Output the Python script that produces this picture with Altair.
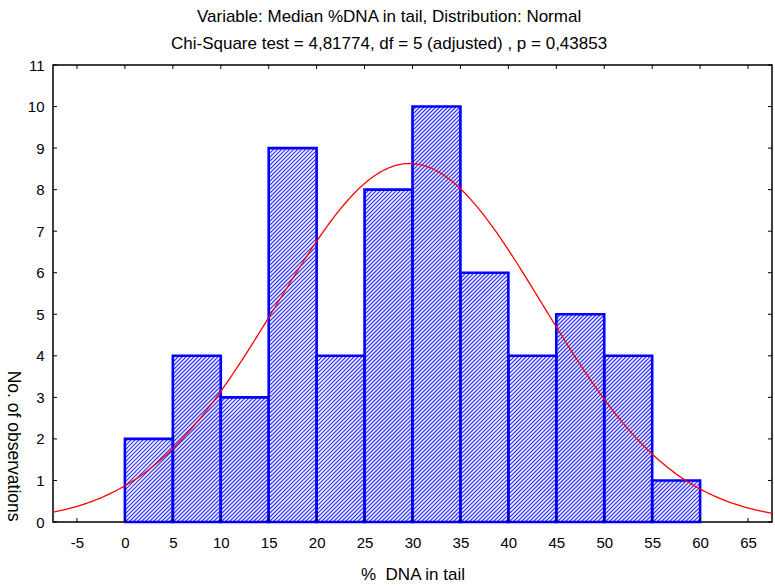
import altair as alt
import numpy as np
import pandas as pd

# Histogram of median %DNA in tail (class width 5)
bin_start = [0, 5, 10, 15, 20, 25, 30, 35, 40, 45, 50, 55]
counts = [2, 4, 3, 9, 4, 8, 10, 6, 4, 5, 4, 1]
bin_width = 5

# Axis tick values
x_ticks = [-5, 0, 5, 10, 15, 20, 25, 30, 35, 40, 45, 50, 55, 60, 65]
y_ticks = [0, 1, 2, 3, 4, 5, 6, 7, 8, 9, 10, 11]

# Fitted normal distribution
fit_mean = 29.7
fit_sd = 13.87

title_lines = [
    "Variable: Median %DNA in tail, Distribution: Normal",
    "Chi-Square test = 4,81774, df = 5 (adjusted) , p = 0,43853",
]
x_title = "%\u00a0 DNA in tail"
y_title = "No. of observations"

# Plot geometry
W, H = 719, 457
X_DOM = [-7.5, 67.5]
Y_DOM = [0, 11]
FONT = "Liberation Sans"

n_total = sum(counts)
bars = pd.DataFrame({
    "start": bin_start,
    "end": [s + bin_width for s in bin_start],
    "count": counts,
})

# Diagonal hatching inside each bar, built in pixel space and mapped back to data units
px_x = W / (X_DOM[1] - X_DOM[0])
px_y = H / (Y_DOM[1] - Y_DOM[0])
period = 4.0
segs = []
for s, e, c in zip(bars["start"], bars["end"], bars["count"]):
    u0 = (s - X_DOM[0]) * px_x
    u1 = (e - X_DOM[0]) * px_x
    h = c * px_y
    k0 = int(np.floor((u0 - h) / period))
    k1 = int(np.ceil(u1 / period))
    for k in range(k0, k1 + 1):
        off = k * period
        a = max(u0, off)
        b = min(u1, off + h)
        if b - a > 0.3:
            segs.append({
                "hx": a / px_x + X_DOM[0],
                "hy": (a - off) / px_y,
                "hx2": b / px_x + X_DOM[0],
                "hy2": (b - off) / px_y,
            })
hatch = pd.DataFrame(segs)

# Expected frequencies of the fitted normal curve
xs = np.arange(X_DOM[0], X_DOM[1] + 0.001, 0.25)
ys = n_total * bin_width / (fit_sd * np.sqrt(2 * np.pi)) * np.exp(-0.5 * ((xs - fit_mean) / fit_sd) ** 2)
curve = pd.DataFrame({"cx": xs, "cy": ys})

xt = pd.DataFrame({"t": x_ticks})
yt = pd.DataFrame({"t": y_ticks})

x_scale = alt.Scale(domain=X_DOM, nice=False, zero=False)
y_scale = alt.Scale(domain=Y_DOM, nice=False, zero=False)

x_axis = alt.Axis(
    values=x_ticks, title=x_title, grid=False, domain=False, ticks=False, tickSize=0,
    labelPadding=13, labelFont=FONT, labelFontSize=15, labelColor="black",
    labelFlush=False, labelOverlap=False, labelExpr="'' + datum.value",
    titleFont=FONT, titleFontSize=17, titleFontWeight="normal", titleColor="black",
    titleY=57, titleBaseline="alphabetic",
)
y_axis = alt.Axis(
    values=y_ticks, title=y_title, grid=False, domain=False, ticks=False, tickSize=0,
    labelPadding=9, labelFont=FONT, labelFontSize=15, labelColor="black",
    labelFlush=False, labelOverlap=False, labelExpr="'' + datum.value",
    titleFont=FONT, titleFontSize=17.5, titleFontWeight="normal", titleColor="black",
    titleAngle=90, titleAlign="right", titleBaseline="middle", titleX=-41, titleY=H - 1,
)

hatch_layer = alt.Chart(hatch).mark_rule(color="#3a3af5", strokeWidth=1.3).encode(
    x=alt.X("hx:Q", scale=x_scale, axis=x_axis),
    y=alt.Y("hy:Q", scale=y_scale, axis=y_axis),
    x2="hx2:Q",
    y2="hy2:Q",
)

bar_layer = alt.Chart(bars).mark_rect(fillOpacity=0, stroke="#0000ff", strokeWidth=2.6).encode(
    x=alt.X("start:Q", scale=x_scale, axis=x_axis),
    x2="end:Q",
    y=alt.Y("count:Q", scale=y_scale, axis=y_axis),
    y2=alt.datum(0),
)

curve_layer = alt.Chart(curve).mark_line(color="#ff0000", strokeWidth=1.3).encode(
    x=alt.X("cx:Q", scale=x_scale, axis=x_axis),
    y=alt.Y("cy:Q", scale=y_scale, axis=y_axis),
)

tick_len = 4
xb = alt.Chart(xt).mark_rule(color="black", strokeWidth=1).encode(
    x=alt.X("t:Q", scale=x_scale, axis=x_axis), y=alt.value(H), y2=alt.value(H - tick_len))
xtop = alt.Chart(xt).mark_rule(color="black", strokeWidth=1).encode(
    x=alt.X("t:Q", scale=x_scale, axis=x_axis), y=alt.value(0), y2=alt.value(tick_len))
yl = alt.Chart(yt).mark_rule(color="black", strokeWidth=1).encode(
    y=alt.Y("t:Q", scale=y_scale, axis=y_axis), x=alt.value(0), x2=alt.value(tick_len))
yr = alt.Chart(yt).mark_rule(color="black", strokeWidth=1).encode(
    y=alt.Y("t:Q", scale=y_scale, axis=y_axis), x=alt.value(W - tick_len), x2=alt.value(W))

chart = alt.layer(hatch_layer, bar_layer, curve_layer, xb, xtop, yl, yr).properties(
    width=W,
    height=H,
    autosize=alt.AutoSizeParams(type="none"),
    padding={"left": 53, "top": 65, "right": 3, "bottom": 65},
    background="white",
    title=alt.TitleParams(
        title_lines, font=FONT, fontSize=17, fontWeight="normal", color="black",
        anchor="middle", frame="bounds", lineHeight=27, offset=5,
    ),
).configure_view(stroke="black", strokeWidth=1.5)

chart.save("out.html", embed_options={"renderer": "svg", "actions": False})
